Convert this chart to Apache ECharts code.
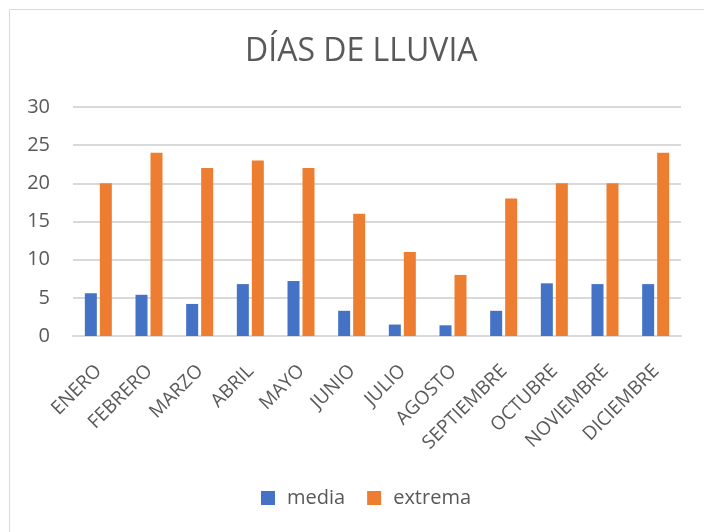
<!DOCTYPE html>
<html>
<head>
<meta charset="utf-8">
<script src="https://cdn.jsdelivr.net/npm/echarts@6/dist/echarts.min.js"></script>
<style>
  html, body { margin: 0; padding: 0; background: #fff; }
  #chart { width: 704px; height: 532px; }
</style>
</head>
<body>
<div id="chart"></div>
<script>
const months = ['ENERO', 'FEBRERO', 'MARZO', 'ABRIL', 'MAYO', 'JUNIO', 'JULIO', 'AGOSTO', 'SEPTIEMBRE', 'OCTUBRE', 'NOVIEMBRE', 'DICIEMBRE']
const media = [5.6, 5.4, 4.2, 6.8, 7.2, 3.3, 1.5, 1.4, 3.3, 6.9, 6.8, 6.8]
const extrema = [20, 24, 22, 23, 22, 16, 11, 8, 18, 20, 20, 24]

const textColor = '#595959'
const gridColor = '#d9d9d9'
const font = 'Open Sans'

const chart = echarts.init(document.getElementById('chart'))
chart.setOption({
  animation: false,
  title: {
    text: 'DÍAS DE LLUVIA',
    left: 240,
    top: 31,
    textStyle: { color: textColor, fontSize: 32, fontWeight: 'normal', fontFamily: font }
  },
  graphic: [{
    type: 'rect',
    shape: { x: 9.5, y: 9.5, width: 720, height: 560 },
    style: { fill: null, stroke: '#d9d9d9', lineWidth: 1 }
  }],
  grid: { left: 73, right: 23, top: 107, bottom: 196 },
  legend: {
    top: 488,
    left: 261,
    padding: 0,
    itemWidth: 14,
    itemHeight: 14,
    itemGap: 22,
    icon: 'rect',
    textStyle: { color: textColor, fontSize: 20, fontFamily: font, padding: [0, 0, 0, 7] }
  },
  xAxis: {
    type: 'category',
    data: months,
    axisLine: { lineStyle: { color: gridColor, width: 2 } },
    axisTick: { show: false },
    axisLabel: {
      rotate: 45,
      interval: 0,
      margin: 19,
      verticalAlign: 'top',
      padding: [0, 9, 0, 0],
      color: textColor,
      fontSize: 19,
      fontFamily: font
    }
  },
  yAxis: {
    type: 'value',
    min: 0,
    max: 30,
    interval: 5,
    axisLine: { show: false },
    axisTick: { show: false },
    axisLabel: { color: textColor, fontSize: 20, fontFamily: font, margin: 23 },
    splitLine: { lineStyle: { color: gridColor, width: 2 } }
  },
  series: [
    {
      name: 'media',
      type: 'bar',
      data: media,
      barWidth: 12,
      barGap: '25%',
      itemStyle: { color: '#4472c4' }
    },
    {
      name: 'extrema',
      type: 'bar',
      data: extrema,
      barWidth: 12,
      itemStyle: { color: '#ed7d31' }
    }
  ]
})
</script>
</body>
</html>
